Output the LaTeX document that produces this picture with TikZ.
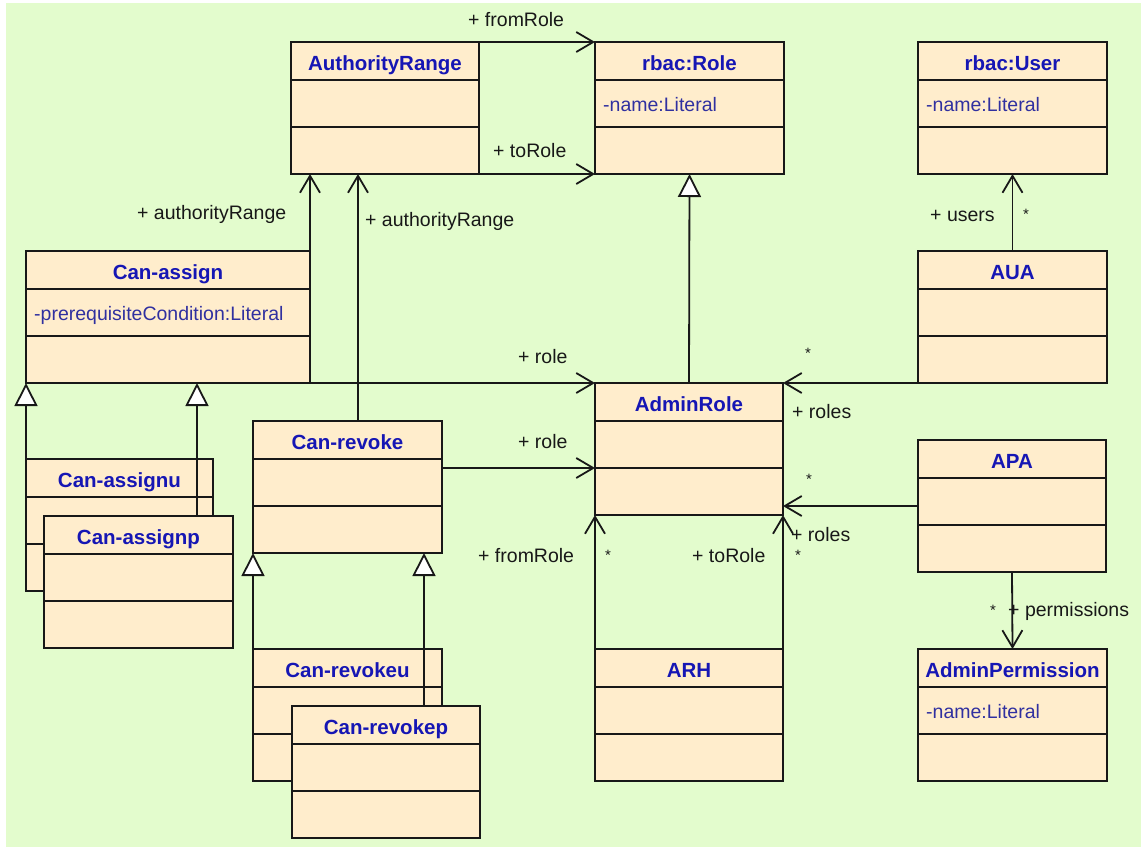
\documentclass[tikz,border=0pt]{standalone}
\usepackage{fontspec}
\setmainfont{Liberation Sans}
\usetikzlibrary{arrows.meta,calc}

\definecolor{canvas}{RGB}{227,252,205}
\definecolor{classfill}{RGB}{255,237,204}
\definecolor{titleblue}{RGB}{22,22,180}
\definecolor{attrblue}{RGB}{48,48,160}
\definecolor{ink}{RGB}{24,24,24}

\tikzset{
  classbox/.style={draw=ink, fill=classfill, line width=1.8pt, inner sep=0pt,
    outer sep=0pt, minimum height=132pt, anchor=north west},
  rowline/.style={draw=ink, line width=1.8pt},
  classtitle/.style={text=titleblue, font=\fontsize{20.5}{24}\selectfont\bfseries,
    inner sep=0pt, anchor=base},
  attrtext/.style={text=attrblue, font=\fontsize{19.5}{23}\selectfont,
    inner sep=0pt, anchor=base west},
  lbl/.style={text=ink, font=\fontsize{19.5}{23}\selectfont, inner sep=0pt, anchor=base west},
  star/.style={text=ink, font=\fontsize{15}{15}\selectfont, inner sep=0pt},
  assoc/.style={draw=ink, line width=1.8pt,
    -{Straight Barb[length=17pt,width=20pt,line width=1.8pt]}},
  inherit/.style={draw=ink, line width=1.8pt,
    -{Triangle[length=23pt,width=23pt,line width=1.8pt,fill=white]}},
}

% a UML class: name, left x, top y, width, title, attribute (may be empty)
\newcommand\umlclass[6]{%
  \node[classbox, minimum width=#4pt] (#1) at (#2,-#3) {};
  \draw[rowline] ($(#1.north west)+(0,-38)$) -- ($(#1.north east)+(0,-38)$);
  \draw[rowline] ($(#1.north west)+(0,-85)$) -- ($(#1.north east)+(0,-85)$);
  \node[classtitle] (#1-title) at ($(#1.north)+(0,-28)$) {#5};
  \if\relax\detokenize{#6}\relax\else
    \node[attrtext] (#1-attr) at ($(#1.north west)+(8,-69)$) {#6};
  \fi
}

\begin{document}
\begin{tikzpicture}[x=1pt,y=1pt]
  \fill[white] (0,0) rectangle (1143,-847);
  \fill[canvas] (6,-3) rectangle (1141,-847);
  \useasboundingbox (0,0) rectangle (1143,-847);

  % classes
  \umlclass{AR}{291}{42}{188}{AuthorityRange}{}
  \umlclass{Role}{595}{42}{189}{rbac:Role}{-name:Literal}
  \umlclass{User}{918}{42}{189}{rbac:User}{-name:Literal}
  \umlclass{CA}{26}{251}{284}{Can-assign}{-prerequisiteCondition:Literal}
  \umlclass{CAu}{26}{459}{187}{Can-assignu}{}
  \umlclass{CAp}{44}{516}{189}{Can-assignp}{}
  \umlclass{CR}{253}{421}{189}{Can-revoke}{}
  \umlclass{CRu}{253}{649}{189}{Can-revokeu}{}
  \umlclass{CRp}{292}{706}{188}{Can-revokep}{}
  \umlclass{AdmR}{595}{383}{188}{AdminRole}{}
  \umlclass{ARH}{595}{649}{188}{ARH}{}
  \umlclass{AUA}{918}{251}{189}{AUA}{}
  \umlclass{APA}{918}{440}{188}{APA}{}
  \umlclass{AdmP}{918}{649}{189}{AdminPermission}{-name:Literal}

  % connector end points inside class edges
  \coordinate (crTop) at ($(CR.north west)+(105,0)$);
  \coordinate (crSide) at ($(CR.north east)+(0,-47)$);
  \coordinate (capTop) at ($(CAp.north west)+(153,0)$);
  \coordinate (crpTop) at ($(CRp.north west)+(132,0)$);
  \coordinate (apaSide) at ($(APA.north west)+(0,-66)$);

  % associations
  \draw[assoc] (AR.north east) -- (Role.north west);
  \draw[assoc] (AR.south east) -- (Role.south west);
  \draw[assoc] (CA.south east) -- (CA.south east |- AR.south);
  \draw[assoc] (CA.south east) -- (CA.south east -| AdmR.west);
  \draw[assoc] (crTop) -- (crTop |- AR.south);
  \draw[assoc] (crSide) -- (crSide -| AdmR.west);
  \draw[assoc] (AUA.north) -- (User.south);
  \draw[assoc] (AUA.south west) -- (AUA.south west -| AdmR.east);
  \draw[assoc] (apaSide) -- (apaSide -| AdmR.east);
  \draw[assoc] (APA.south) -- (AdmP.north);
  \draw[assoc] (ARH.north west) -- (AdmR.south west);
  \draw[assoc] (ARH.north east) -- (AdmR.south east);

  % generalizations
  \draw[inherit] (AdmR.north) -- (Role.south);
  \draw[inherit] (CAu.north west) -- (CAu.north west |- CA.south);
  \draw[inherit] (capTop) -- (capTop |- CA.south);
  \draw[inherit] (CRu.north west) -- (CRu.north west |- CR.south);
  \draw[inherit] (crpTop) -- (crpTop |- CR.south);

  % role names
  \node[lbl] (l1) at (468,-26) {+ fromRole};
  \node[lbl] (l2) at (493,-157) {+ toRole};
  \node[lbl] (l3) at (137,-219) {+ authorityRange};
  \node[lbl] (l4) at (365,-226) {+ authorityRange};
  \node[lbl] (l5) at (518,-363) {+ role};
  \node[lbl] (l6) at (518,-448) {+ role};
  \node[lbl] (l7) at (792,-418) {+ roles};
  \node[lbl] (l8) at (791,-541) {+ roles};
  \node[lbl] (l9) at (478,-562) {+ fromRole};
  \node[lbl] (l10) at (692,-562) {+ toRole};
  \node[lbl] (l11) at (930,-221) {+ users};
  \node[lbl] (l12) at (1008,-616) {+ permissions};

  % multiplicities
  \node[star] (m1) at (808,-353) {*};
  \node[star] (m2) at (1026,-214) {*};
  \node[star] (m3) at (809,-479) {*};
  \node[star] (m4) at (608,-555) {*};
  \node[star] (m5) at (798,-555) {*};
  \node[star] (m6) at (993,-610) {*};
\end{tikzpicture}
\end{document}
